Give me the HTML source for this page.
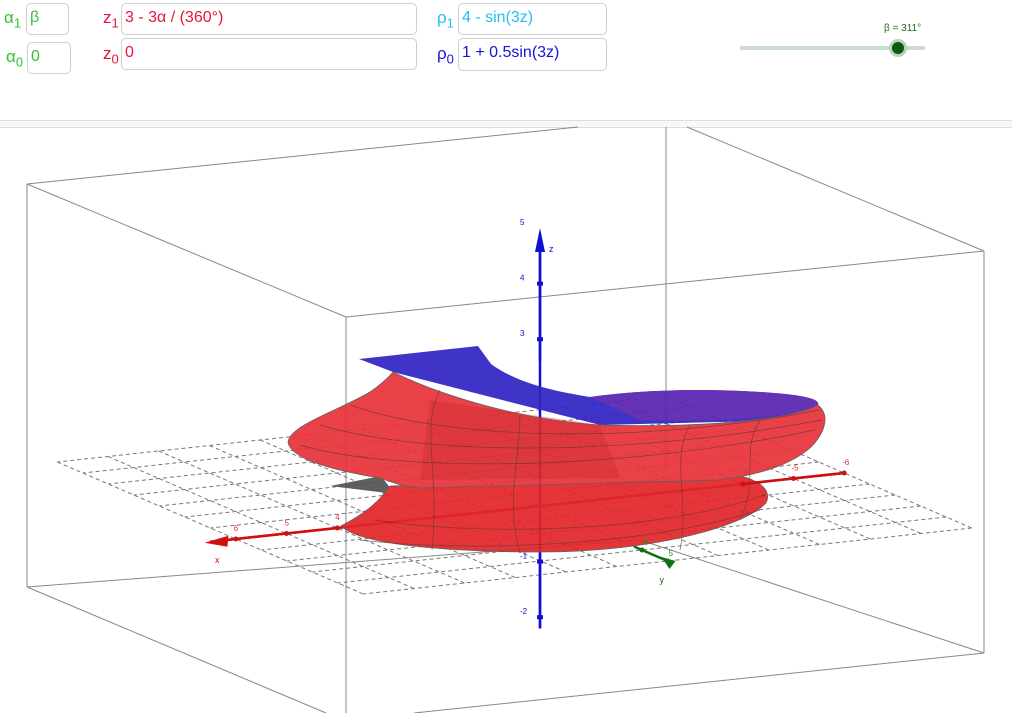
<!DOCTYPE html>
<html><head><meta charset="utf-8">
<style>
body{margin:0;width:1012px;height:713px;overflow:hidden;background:#fff;font-family:"Liberation Sans",sans-serif;position:relative}
.box{position:absolute;border:1px solid #cfcfcf;border-radius:5px;background:#fff;font-size:16px;padding-left:3px;box-sizing:border-box;line-height:28px}
.lbl{position:absolute;font-size:17px}
.lbl sub{font-size:13px}
</style></head><body>
<div class="lbl" style="left:4px;top:8px;color:#33c433">α<sub>1</sub></div>
<div class="box" style="left:26px;top:3px;width:43px;height:32px;color:#33c433">β</div>
<div class="lbl" style="left:6px;top:47px;color:#33c433">α<sub>0</sub></div>
<div class="box" style="left:27px;top:42px;width:44px;height:32px;color:#33c433">0</div>
<div class="lbl" style="left:103px;top:8px;color:#e8143c">z<sub>1</sub></div>
<div class="box" style="left:121px;top:3px;width:296px;height:32px;color:#e8143c">3 - 3α / (360°)</div>
<div class="lbl" style="left:103px;top:44px;color:#e8143c">z<sub>0</sub></div>
<div class="box" style="left:121px;top:38px;width:296px;height:32px;color:#e8143c">0</div>
<div class="lbl" style="left:437px;top:8px;color:#22c0ee">ρ<sub>1</sub></div>
<div class="box" style="left:458px;top:3px;width:149px;height:32px;color:#22c0ee">4 - sin(3z)</div>
<div class="lbl" style="left:437px;top:44px;color:#1414d8">ρ<sub>0</sub></div>
<div class="box" style="left:458px;top:38px;width:149px;height:33px;color:#1414d8">1 + 0.5sin(3z)</div>
<div style="position:absolute;left:884px;top:23px;font-size:10px;color:#1f6e1f">β = 311°</div>
<div style="position:absolute;left:740px;top:46px;width:185px;height:4px;border-radius:2px;background:#c9dec9"></div>
<div style="position:absolute;left:889px;top:39px;width:12px;height:12px;border-radius:50%;background:#0d5a0d;border:3px solid #b8d4b8"></div>
<div style="position:absolute;left:0;top:120px;width:1012px;height:6px;border-top:1px solid #ddd;border-bottom:1px solid #ddd;background:#f8f8f8"></div>

<svg id="g" width="1012" height="713" style="position:absolute;left:0;top:0">
<g stroke="#888" stroke-width="1" fill="none">
<line x1="27" y1="184" x2="578" y2="127"/><line x1="27" y1="184" x2="346" y2="317"/>
<line x1="346" y1="317" x2="984" y2="251"/><line x1="687" y1="127" x2="984" y2="251"/>
<line x1="666" y1="127" x2="666" y2="470"/><line x1="984" y1="251" x2="984" y2="653"/>
<line x1="27" y1="184" x2="27" y2="587"/><line x1="27" y1="587" x2="640" y2="540"/>
<line x1="27" y1="587" x2="326" y2="713"/><line x1="984" y1="653" x2="414" y2="713"/>
<line x1="984" y1="653" x2="640" y2="540"/><line x1="346" y1="317" x2="346" y2="713"/>
</g>
<g id="grid" stroke="#777" stroke-width="1" stroke-dasharray="4,3" fill="none"></g>
<g id="axes"></g>
<g id="surf" opacity="0.93">
<path d="M330,486 L381,476 L395,494 Z" fill="#555"/>
<path d="M341,526 C360,545 450,552 543,552 C640,552 740,530 766,503 C775,485 745,473 717,474 L390,486 C380,500 368,512 341,526 Z" fill="#e3262b" stroke="#555" stroke-width="0.8"/>
<path d="M359,359 L478,346 L491,364 C520,385 560,392 590,397 C640,390 700,388 760,392 C810,395 820,400 818,405 L800,420 L600,425 L393,372 Z" fill="#3225c4"/>
<path d="M590,397 C640,390 700,388 760,392 C810,395 820,400 818,405 C790,420 700,422 640,420 Z" fill="#5a24b0"/>
<path d="M393,372 C440,395 520,420 600,425 C700,428 790,420 818,405 C830,415 826,432 810,448 C790,465 760,475 717,480 L420,488 C400,486 392,482 380,478 C330,470 290,458 288,442 C290,425 340,410 370,392 C380,385 388,378 393,372 Z" fill="#e8333a" stroke="#555" stroke-width="0.8"/>
<path d="M430,400 L600,425 L620,478 L420,480 Z" fill="#c81e22" opacity="0.4"/>
<g stroke="#5a2a2a" stroke-width="0.7" fill="none" opacity="0.8">
<path d="M300,445 C380,470 600,475 815,430"/><path d="M320,425 C420,455 620,458 822,420"/>
<path d="M350,405 C450,440 640,445 820,410"/><path d="M360,540 C460,552 640,548 760,510"/>
<path d="M375,520 C470,535 650,535 765,495"/><path d="M440,390 C420,430 440,470 432,550"/>
<path d="M520,415 C520,460 505,500 520,553"/><path d="M690,425 C670,460 690,500 680,550"/>
<path d="M760,420 C740,450 760,480 740,520"/>
</g>
</g>
<g id="axes2"></g>
</svg>
<script>
const zTicks=[5,4,3,-1,-2];
const xTicks=[6,5,4,-4,-5,-6];
const yTicks=[4,5];
const gridX=[-6,-5,-4,-3,-2,-1,0,1,2,3,4,5,6];
const gridY=[-7,-6,-5,-4,-3,-2,-1,0,1,2,3,4,5];
const O={x:540,y:506};
function P(x,y,z){return {x:O.x-50.7*x+25.5*y, y:O.y+5.5*x+11*y-55.6*z};}
const NS='http://www.w3.org/2000/svg';
function mk(t,a,p){const e=document.createElementNS(NS,t);for(const k in a)e.setAttribute(k,a[k]);p.appendChild(e);return e;}
const grid=document.getElementById('grid'), ax=document.getElementById('axes'), ax2=document.getElementById('axes2');
gridX.forEach(v=>{const a=P(v,gridY[0],0),b=P(v,gridY[gridY.length-1],0);
 const l=mk('line',{x1:a.x,y1:a.y,x2:b.x,y2:b.y},grid);
 
 });
gridY.forEach(v=>{const a=P(gridX[0],v,0),b=P(gridX[gridX.length-1],v,0);
 const l=mk('line',{x1:a.x,y1:a.y,x2:b.x,y2:b.y},grid);
 
 });
let a=P(0,0,-2.2),b=P(0,0,5);
let l=mk('line',{x1:a.x,y1:a.y,x2:b.x,y2:b.y+6,stroke:'#1010d0','stroke-width':2.5},ax);


let zTop=P(0,0,2.6), zBot=P(0,0,-0.85);
let l2=mk('line',{x1:b.x,y1:b.y+6,x2:zTop.x,y2:zTop.y,stroke:'#1010d0','stroke-width':2.5},ax2);


let l3=mk('line',{x1:zBot.x,y1:zBot.y,x2:a.x,y2:a.y,stroke:'#1010d0','stroke-width':2.5},ax2);


let ar=mk('polygon',{points:`${b.x},${b.y} ${b.x-5},${b.y+24} ${b.x+5},${b.y+24}`,fill:'#1010d0'},ax2);


let t=mk('text',{x:b.x+9,y:b.y+24,'font-size':9,fill:'#1010d0'},ax2);t.textContent='z';


zTicks.forEach(v=>{const p=P(0,0,v);
 if(v<5){const r=mk('rect',{x:p.x-3,y:p.y-2,width:6,height:4,fill:'#1010d0'},ax2);
 
 }
 const s=mk('text',{x:p.x-20,y:p.y-3,'font-size':8,fill:'#1010d0'},ax2);s.textContent=v;
 
 });
a=P(6.5,0,0);b=P(-6,0,0);
l=mk('line',{x1:a.x,y1:a.y,x2:b.x,y2:b.y,stroke:'#d01010','stroke-width':2.5},ax);


let xl=P(4,0,0), xr=P(-4,0,0);
l2=mk('line',{x1:a.x,y1:a.y,x2:xl.x,y2:xl.y,stroke:'#d01010','stroke-width':2.5},ax2);


l3=mk('line',{x1:xr.x,y1:xr.y,x2:b.x,y2:b.y,stroke:'#d01010','stroke-width':2.5},ax2);


ar=mk('polygon',{points:`${a.x-6},${a.y+1} ${a.x+18},${a.y-6} ${a.x+17},${a.y+5}`,fill:'#d01010'},ax2);


t=mk('text',{x:215,y:563,'font-size':9,fill:'#d01010'},ax2);t.textContent='x';


xTicks.forEach(v=>{const p=P(v,0,0);
 const c=mk('circle',{cx:p.x,cy:p.y,r:2.5,fill:'#d01010'},ax2);
 
 
 const s=mk('text',{x:p.x-2,y:p.y-8,'font-size':8,fill:'#e03030'},ax2);s.textContent=v;
 
 });
a=P(0,3.7,0);b=P(0,5,0);
l=mk('line',{x1:a.x,y1:a.y,x2:b.x,y2:b.y,stroke:'#107010','stroke-width':2.5},ax2);


ar=mk('polygon',{points:`${b.x-6},${b.y-4} ${b.x+8},${b.y} ${b.x+2},${b.y+8}`,fill:'#107010'},ax2);


t=mk('text',{x:b.x-8,y:b.y+22,'font-size':9,fill:'#107010'},ax2);t.textContent='y';


yTicks.forEach(v=>{const p=P(0,v,0);
 const c=mk('circle',{cx:p.x,cy:p.y,r:2.5,fill:'#107010'},ax2);
 
 
 const s=mk('text',{x:p.x+1,y:p.y-5,'font-size':8,fill:'#209020'},ax2);s.textContent=v;
 
 });
</script>
</body></html>
